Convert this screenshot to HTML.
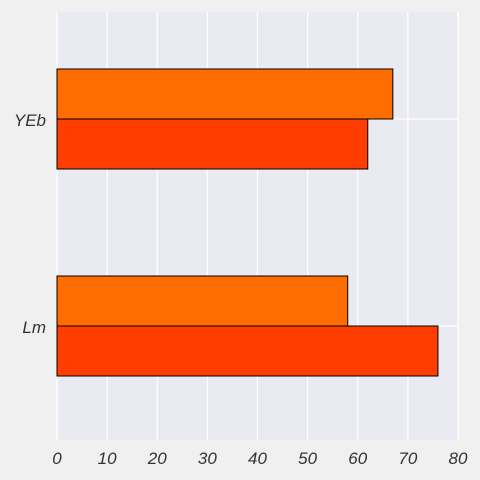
<!DOCTYPE html>
<html><head><meta charset="utf-8"><style>
html,body{margin:0;padding:0;background:#f0f0f0;}
svg{display:block;font-family:"Liberation Sans",sans-serif;}
</style></head><body>
<svg id="chart" width="480" height="480">
<rect x="57" y="12" width="401" height="428" fill="#eaeaf2"/>
<g id="grid"></g><g id="bars"></g><g id="xt"></g><g id="yt"></g>
</svg>
<script>
const categories=["YEb","Lm"];
const seriesA=[67,58];
const seriesB=[62,76];
const xTicks=[0,10,20,30,40,50,60,70,80];
const NS="http://www.w3.org/2000/svg";
const x0=57,x1=458,y0=12,y1=440;
const xs=v=>x0+(v-0)/(80-0)*(x1-x0);
const catCenter=[119,326];
const ys=i=>catCenter[i];
const bh=50;
function mk(t,a,p){const e=document.createElementNS(NS,t);for(const k in a)e.setAttribute(k,a[k]);p.appendChild(e);return e;}
const grid=document.getElementById('grid'),bars=document.getElementById('bars'),xt=document.getElementById('xt'),yt=document.getElementById('yt');
xTicks.forEach(v=>{
 const l=mk('line',{x1:xs(v),x2:xs(v),y1:y0,y2:y1,stroke:'#fff','stroke-width':1.3},grid);
 
 
 const t=mk('text',{x:xs(v),y:464,'text-anchor':'middle','font-size':17,'font-style':'italic',fill:'#333'},xt);
 t.textContent=v;
 
 
});
categories.forEach((c,i)=>{
 const l=mk('line',{x1:x0,x2:x1,y1:ys(i),y2:ys(i),stroke:'#fff','stroke-width':1.3},grid);
 
 
 const a=mk('rect',{x:xs(0),y:ys(i)-bh,width:xs(seriesA[i])-xs(0),height:bh,fill:'#ff6d00',stroke:'#000','stroke-width':1},bars);
 
 
 const b=mk('rect',{x:xs(0),y:ys(i),width:xs(seriesB[i])-xs(0),height:bh,fill:'#ff3d00',stroke:'#000','stroke-width':1},bars);
 
 
 const t=mk('text',{x:46,y:ys(i)+7,'text-anchor':'end','font-size':17,'font-style':'italic',fill:'#333'},yt);
 t.textContent=c;
 
 
});
</script>
</body></html>
